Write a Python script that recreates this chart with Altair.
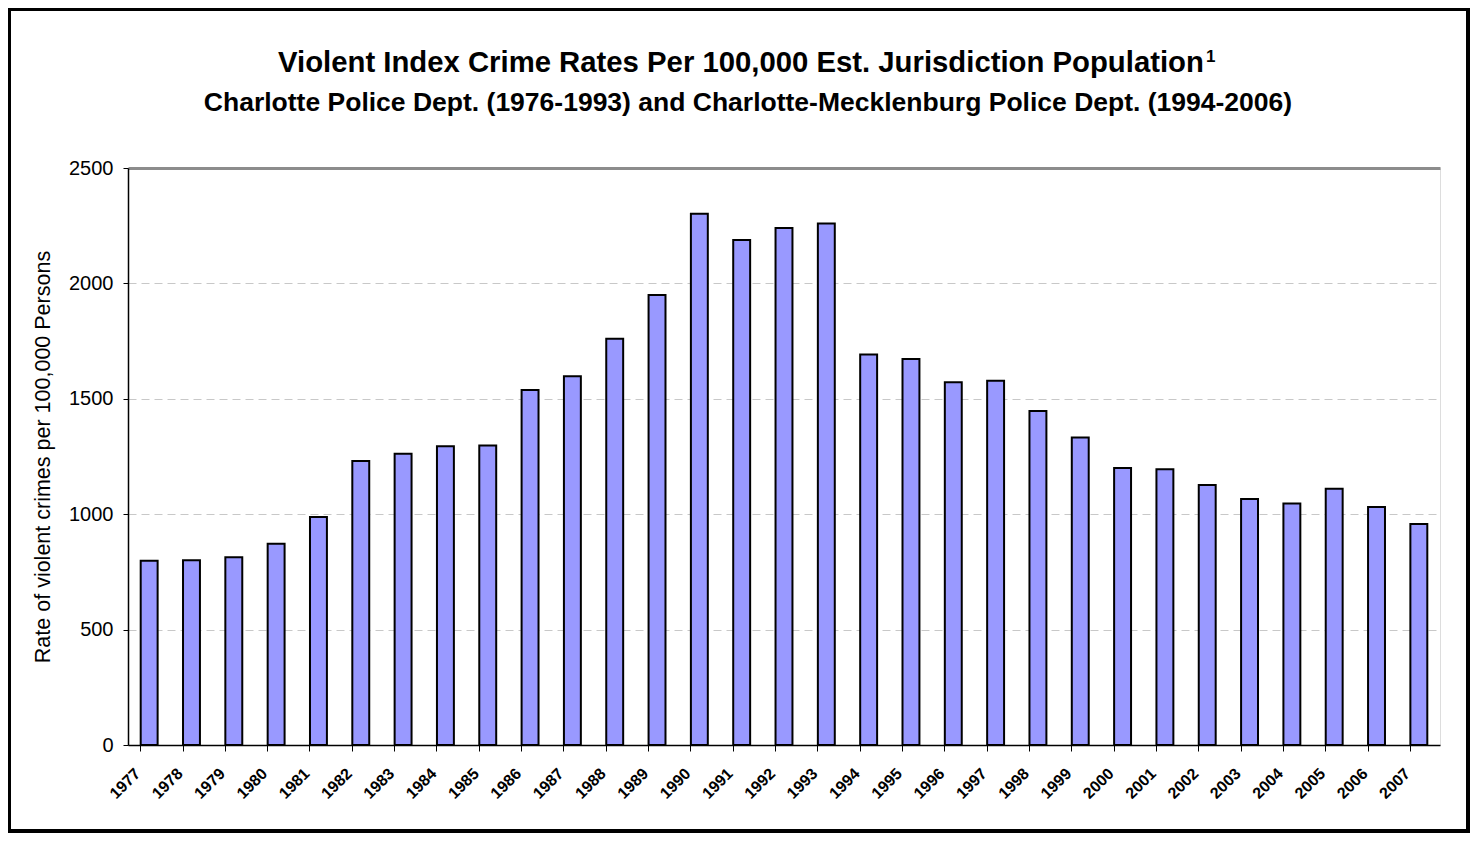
import altair as alt
import pandas as pd

years = [str(y) for y in range(1977, 2008)]
rates = [798, 800, 813, 872, 988, 1230, 1262, 1294, 1298, 1538,
         1598, 1760, 1950, 2302, 2188, 2240, 2260, 1692, 1672, 1572,
         1578, 1447, 1332, 1200, 1195, 1127, 1066, 1046, 1110, 1031, 957]
y_ticks = [0, 500, 1000, 1500, 2000, 2500]

title_main = "Violent Index Crime Rates Per 100,000 Est. Jurisdiction Population"
title_sup = "1"
title_sub = "Charlotte Police Dept. (1976-1993) and Charlotte-Mecklenburg Police Dept. (1994-2006)"
y_title = "Rate of violent crimes  per 100,000 Persons"

df = pd.DataFrame({"year": years, "rate": rates})
tdf = pd.DataFrame({"main": [title_main], "sup": [title_sup], "sub": [title_sub]})

FONT = "Liberation Sans"

bars = alt.Chart(df).mark_bar(
    fill="#9999FF", stroke="#000000", strokeWidth=2
).encode(
    x=alt.X("year:N", sort=years,
            scale=alt.Scale(paddingInner=0.6, paddingOuter=0.3),
            axis=alt.Axis(title=None, labelAngle=-45, labelAlign="right",
                          labelBaseline="top", labelFont=FONT, labelFontSize=16,
                          labelFontWeight="bold", labelColor="#000",
                          bandPosition=0, labelOffset=-17, labelPadding=14,
                          tickColor="#000", tickSize=6, domainColor="#000",
                          domainWidth=1.5, grid=False)),
    y=alt.Y("rate:Q", scale=alt.Scale(domain=[0, 2500], nice=False),
            axis=alt.Axis(title=y_title, values=y_ticks, format="d",
                          titleFont=FONT, titleFontSize=21.5, titleFontWeight="normal",
                          titleColor="#000", titlePadding=14,
                          labelFont=FONT, labelFontSize=20, labelColor="#000",
                          labelPadding=10, tickColor="#000", tickSize=5,
                          domainColor="#000", domainWidth=1.5,
                          grid=True,
                          gridColor=alt.condition("datum.value == 2500",
                                                  alt.value("#8c8c8c"),
                                                  alt.value("#c8c8c8")),
                          gridDash=alt.condition("datum.value == 2500",
                                                 alt.value([1, 0]),
                                                 alt.value([8, 5])),
                          gridWidth=alt.condition("datum.value == 2500",
                                                  alt.value(3),
                                                  alt.value(1)))),
)

border = alt.Chart(df).mark_rect(
    fill=None, stroke="#000000", strokeWidth=3, clip=False
).encode(
    x=alt.value(-119), x2=alt.value(1340), y=alt.value(-159), y2=alt.value(663)
)

t1 = alt.Chart(tdf).mark_text(
    font=FONT, fontSize=29.3, fontWeight="bold", color="#000", align="left",
    baseline="alphabetic", clip=False
).encode(text="main:N", x=alt.value(150), y=alt.value(-96))

t1s = alt.Chart(tdf).mark_text(
    font=FONT, fontSize=17, fontWeight="bold", color="#000", align="left",
    baseline="alphabetic", clip=False
).encode(text="sup:N", x=alt.value(1078), y=alt.value(-106))

t2 = alt.Chart(tdf).mark_text(
    font=FONT, fontSize=26.5, fontWeight="bold", color="#000", align="center",
    baseline="alphabetic", clip=False
).encode(text="sub:N", x=alt.value(620), y=alt.value(-57))

chart = alt.layer(border, bars, t1, t1s, t2).properties(
    width=1312, height=577,
    padding={"left": 120, "top": 160, "right": 30, "bottom": 88},
    autosize=alt.AutoSizeParams(type="none"),
).configure_view(
    stroke="#8c8c8c", strokeWidth=3
).configure(background="white")

chart.save("out.html", embed_options={"renderer": "svg", "actions": False})
